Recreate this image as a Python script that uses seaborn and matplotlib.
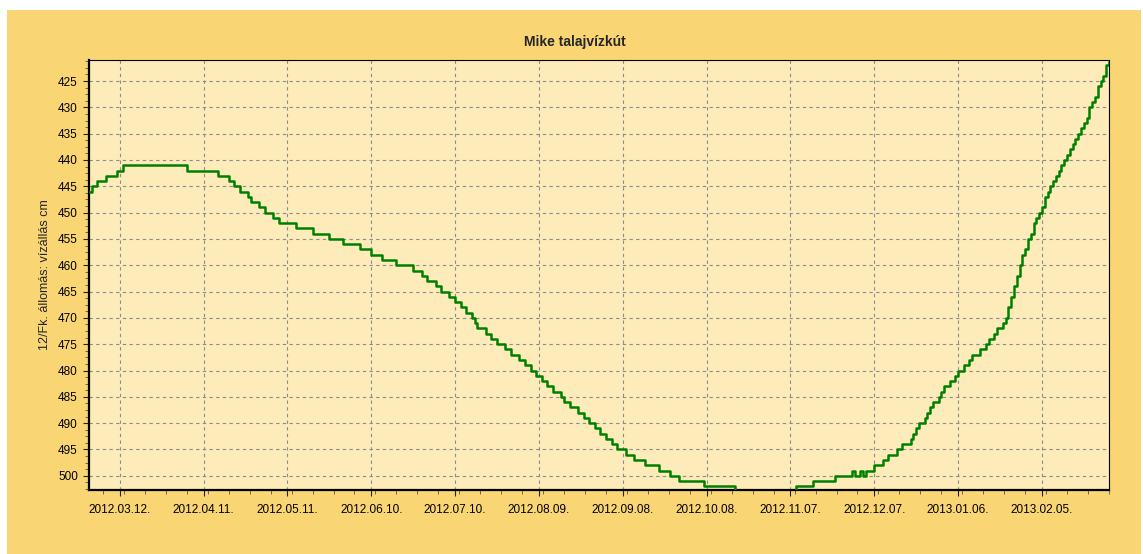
"""
plot.py — Mike talajvízkút water level chart (step line)
"""

import numpy as np
import pandas as pd
import matplotlib
matplotlib.use("Agg")
import matplotlib.pyplot as plt
import matplotlib.dates as mdates
from matplotlib.ticker import AutoMinorLocator, MultipleLocator
from matplotlib.patches import Rectangle
import seaborn as sns

# Data: day offset (from start_date) where the level changes, and the new level (cm)
start_date = "2012-03-01"
end_date = "2013-03-01"

change_day = [
    0, 1, 3, 6, 10, 12, 35, 46, 50, 52, 54, 57, 58, 61, 63, 66, 68, 74, 80, 86,
    91, 97, 101, 105, 110, 116, 119, 121, 124, 126, 129, 131, 133, 135, 137, 138, 139, 142, 144, 146,
    149, 151, 154, 156, 158, 160, 162, 164, 166, 169, 170, 172, 175, 177, 179, 181, 183, 185, 187, 189,
    192, 195, 199, 204, 208, 211, 220, 231, 253, 259, 267, 273, 274, 276, 277, 278, 281, 284, 286, 289,
    291, 294, 295, 296, 297, 299, 300, 301, 302, 304, 305, 306, 308, 310, 311, 313, 315, 316, 319, 321,
    322, 324, 325, 327, 328, 329, 330, 331, 332, 333, 334, 335, 336, 337, 338, 339, 340, 341, 342, 343,
    344, 345, 346, 347, 348, 349, 350, 351, 352, 353, 354, 355, 356, 357, 358, 359, 360, 361, 362, 363,
    364, 365,
]
level_cm = [
    446, 445, 444, 443, 442, 441, 442, 443, 444, 445, 446, 447, 448, 449, 450, 451, 452, 453, 454, 455,
    456, 457, 458, 459, 460, 461, 462, 463, 464, 465, 466, 467, 468, 469, 470, 471, 472, 473, 474, 475,
    476, 477, 478, 479, 480, 481, 482, 483, 484, 485, 486, 487, 488, 489, 490, 491, 492, 493, 494, 495,
    496, 497, 498, 499, 500, 501, 502, 503, 502, 501, 500, 499, 500, 499, 500, 499, 498, 497, 496, 495,
    494, 493, 492, 491, 490, 489, 488, 487, 486, 485, 484, 483, 482, 481, 480, 479, 478, 477, 476, 475,
    474, 473, 472, 471, 470, 468, 466, 464, 462, 460, 458, 457, 455, 454, 452, 451, 450, 449, 447, 446,
    445, 444, 443, 442, 441, 440, 439, 438, 437, 436, 435, 434, 433, 432, 430, 429, 428, 426, 425, 424,
    422, 421,
]

yticks = list(range(425, 505, 5))
first_xtick = "2012-03-12"
xtick_step_days = 30

title = "Mike talajvízkút"
ylabel = "12/Fk. állomás: vízállás cm"

df = pd.DataFrame({
    "date": pd.to_datetime(start_date) + pd.to_timedelta(change_day, unit="D"),
    "level": level_cm,
})

sns.set_style("white")
plt.rcParams["font.family"] = ["Liberation Sans", "DejaVu Sans"]

fig = plt.figure(figsize=(11.43, 5.54), dpi=100, facecolor="white")
# yellow panel behind the chart
fig.patches.append(Rectangle((7 / 1143, 0), 1134 / 1143, 544 / 554, transform=fig.transFigure,
                             facecolor="#F9D673", edgecolor="none", zorder=-10))
ax = fig.add_axes([89 / 1143, 1 - 490 / 554, 1020 / 1143, 430 / 554])
ax.set_facecolor("#FDEBBA")

sns.lineplot(data=df, x="date", y="level", ax=ax, color="#008000", linewidth=1.8,
             drawstyle="steps-post", zorder=3)

ax.set_xlim(pd.to_datetime(start_date), pd.to_datetime(end_date))
ax.set_ylim(502.7, 421.0)

xticks = pd.date_range(first_xtick, end_date, freq=f"{xtick_step_days}D")
ax.set_xticks(xticks)
ax.xaxis.set_major_formatter(mdates.DateFormatter("%Y.%m.%d."))
ax.xaxis.set_minor_locator(MultipleLocator(xtick_step_days / 4))
ax.set_yticks(yticks)
ax.yaxis.set_minor_locator(AutoMinorLocator(4))

ax.grid(True, which="major", color="#8c8c8c", linestyle=(0, (3, 3)), linewidth=0.8)
ax.tick_params(which="major", direction="out", length=4, width=0.8, labelsize=8.5, pad=4,
               colors="#222222", labelcolor="black")
ax.tick_params(which="minor", direction="out", length=3, width=0.6, color="#555555")
ax.tick_params(axis="x", which="major", pad=6)
ax.tick_params(bottom=True, left=True, which="both")

for side in ["left", "bottom"]:
    ax.spines[side].set_linewidth(1.6)
    ax.spines[side].set_color("black")
for side in ["top", "right"]:
    ax.spines[side].set_linewidth(0.8)
    ax.spines[side].set_color("black")

ax.set_xlabel("")
ax.set_ylabel(ylabel, fontsize=9, labelpad=5)
# title is centred on the yellow panel, not on the axes
fig.text(575 / 1143, 1 - 42 / 554, title, fontsize=10, fontweight="bold", ha="center", va="center")

fig.savefig("out.png", dpi=100, facecolor=fig.get_facecolor())
plt.close(fig)
